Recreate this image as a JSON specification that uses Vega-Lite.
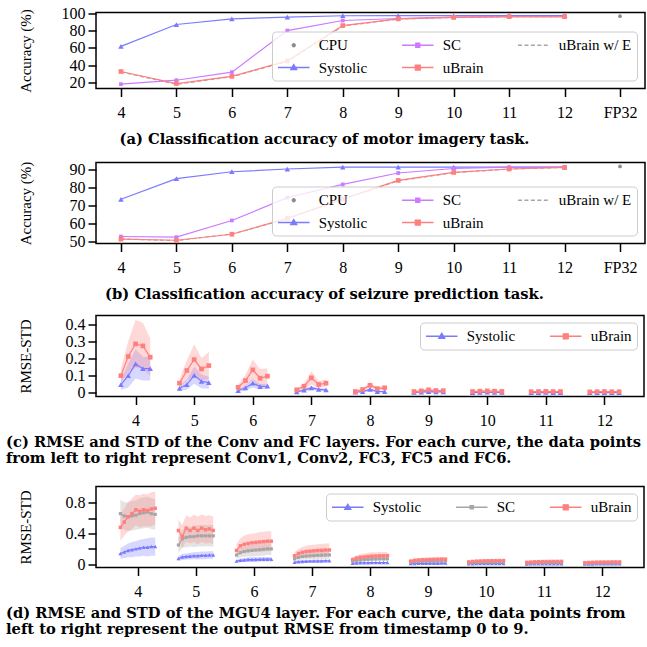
{
"$schema": "https://vega.github.io/schema/vega-lite/v6.json",
"padding": {"left": 5, "top": 3.5, "right": 5, "bottom": 5},
"background": "white",
"config": {
 "font": "Liberation Serif",
 "view": {"stroke": "#000", "strokeWidth": 1.5},
 "axis": {"domain": false, "grid": false, "ticks": true, "tickSize": 8, "tickWidth": 1.5, "tickColor": "#000", "labelFont": "Liberation Serif", "labelFontSize": 16, "labelColor": "#000", "titleFont": "Liberation Serif", "titleFontSize": 15, "titleFontWeight": "normal", "titleColor": "#000"},
 "axisX": {"labelPadding": 8},
 "axisY": {"labelPadding": 3, "titleX": -63, "titleBaseline": "bottom"},
 "legend": {"labelFont": "Liberation Serif", "labelFontSize": 15, "labelColor": "#000", "symbolSize": 225, "symbolOffset": 8.25, "symbolStrokeWidth": 1.3, "symbolOpacity": 1, "labelOffset": 16.5, "columnPadding": 31, "rowPadding": 5.5, "padding": 5, "fillColor": "rgba(255,255,255,0.8)", "strokeColor": "#cccccc", "cornerRadius": 4},
 "title": {"font": "DejaVu Serif", "fontSize": 14.7, "fontWeight": "bold", "color": "#000", "subtitleFont": "DejaVu Serif", "subtitleFontSize": 1, "lineHeight": 16}
},
"resolve": {"scale": {"fill": "independent", "stroke": "independent", "shape": "independent"}, "legend": {"fill": "independent", "stroke": "independent", "shape": "independent"}},
"spacing": 10,
"datasets": {
 "acc_a": [
  {"x":4,"s":"Systolic","y":61.9},{"x":5,"s":"Systolic","y":86.9},{"x":6,"s":"Systolic","y":93.4},{"x":7,"s":"Systolic","y":95.4},{"x":8,"s":"Systolic","y":97},{"x":9,"s":"Systolic","y":97.1},{"x":10,"s":"Systolic","y":97.1},{"x":11,"s":"Systolic","y":97.1},{"x":12,"s":"Systolic","y":97.1},
  {"x":4,"s":"SC","y":18.5},{"x":5,"s":"SC","y":23},{"x":6,"s":"SC","y":32.3},{"x":7,"s":"SC","y":80},{"x":8,"s":"SC","y":91.5},{"x":9,"s":"SC","y":93.8},{"x":10,"s":"SC","y":95.4},{"x":11,"s":"SC","y":96},{"x":12,"s":"SC","y":96},
  {"x":4,"s":"uBrain w/ E","y":32.5},{"x":5,"s":"uBrain w/ E","y":18.3},{"x":6,"s":"uBrain w/ E","y":27},{"x":7,"s":"uBrain w/ E","y":44.5},{"x":8,"s":"uBrain w/ E","y":85.2},{"x":9,"s":"uBrain w/ E","y":93.2},{"x":10,"s":"uBrain w/ E","y":95},{"x":11,"s":"uBrain w/ E","y":96},{"x":12,"s":"uBrain w/ E","y":96},
  {"x":4,"s":"uBrain","y":33},{"x":5,"s":"uBrain","y":19.2},{"x":6,"s":"uBrain","y":27.4},{"x":7,"s":"uBrain","y":45.2},{"x":8,"s":"uBrain","y":85.7},{"x":9,"s":"uBrain","y":93.4},{"x":10,"s":"uBrain","y":95},{"x":11,"s":"uBrain","y":96},{"x":12,"s":"uBrain","y":96},
  {"x":13,"s":"CPU","y":96.5}
 ],
 "acc_b": [
  {"x":4,"s":"Systolic","y":73.3},{"x":5,"s":"Systolic","y":84.7},{"x":6,"s":"Systolic","y":88.5},{"x":7,"s":"Systolic","y":90},{"x":8,"s":"Systolic","y":91},{"x":9,"s":"Systolic","y":91.1},{"x":10,"s":"Systolic","y":91.1},{"x":11,"s":"Systolic","y":91.1},{"x":12,"s":"Systolic","y":91.1},
  {"x":4,"s":"SC","y":52.75},{"x":5,"s":"SC","y":52.4},{"x":6,"s":"SC","y":61.6},{"x":7,"s":"SC","y":74.2},{"x":8,"s":"SC","y":81.5},{"x":9,"s":"SC","y":87.8},{"x":10,"s":"SC","y":90.3},{"x":11,"s":"SC","y":91},{"x":12,"s":"SC","y":91},
  {"x":4,"s":"uBrain w/ E","y":51.4},{"x":5,"s":"uBrain w/ E","y":50.5},{"x":6,"s":"uBrain w/ E","y":54.1},{"x":7,"s":"uBrain w/ E","y":62.5},{"x":8,"s":"uBrain w/ E","y":73.3},{"x":9,"s":"uBrain w/ E","y":83.5},{"x":10,"s":"uBrain w/ E","y":88},{"x":11,"s":"uBrain w/ E","y":90},{"x":12,"s":"uBrain w/ E","y":90.9},
  {"x":4,"s":"uBrain","y":51.3},{"x":5,"s":"uBrain","y":50.7},{"x":6,"s":"uBrain","y":54},{"x":7,"s":"uBrain","y":62.8},{"x":8,"s":"uBrain","y":73.5},{"x":9,"s":"uBrain","y":83.7},{"x":10,"s":"uBrain","y":88.1},{"x":11,"s":"uBrain","y":90},{"x":12,"s":"uBrain","y":90.9},
  {"x":13,"s":"CPU","y":91.4}
 ],
 "rmse_c": [
  {"x":3.75,"g":4,"s":"Systolic","y":0.049,"lo":0.019,"hi":0.079},{"x":3.875,"g":4,"s":"Systolic","y":0.101,"lo":0.031,"hi":0.171},{"x":4,"g":4,"s":"Systolic","y":0.17,"lo":0.085,"hi":0.255},{"x":4.125,"g":4,"s":"Systolic","y":0.142,"lo":0.072,"hi":0.212},{"x":4.25,"g":4,"s":"Systolic","y":0.142,"lo":0.072,"hi":0.212},
  {"x":4.75,"g":5,"s":"Systolic","y":0.027,"lo":0.012,"hi":0.042},{"x":4.875,"g":5,"s":"Systolic","y":0.049,"lo":0.019,"hi":0.079},{"x":5,"g":5,"s":"Systolic","y":0.103,"lo":0.053,"hi":0.153},{"x":5.125,"g":5,"s":"Systolic","y":0.068,"lo":0.028,"hi":0.108},{"x":5.25,"g":5,"s":"Systolic","y":0.06,"lo":0.025,"hi":0.095},
  {"x":5.75,"g":6,"s":"Systolic","y":0.014,"lo":0.006,"hi":0.022},{"x":5.875,"g":6,"s":"Systolic","y":0.029,"lo":0.014,"hi":0.044},{"x":6,"g":6,"s":"Systolic","y":0.057,"lo":0.032,"hi":0.082},{"x":6.125,"g":6,"s":"Systolic","y":0.037,"lo":0.022,"hi":0.052},{"x":6.25,"g":6,"s":"Systolic","y":0.039,"lo":0.024,"hi":0.054},
  {"x":6.75,"g":7,"s":"Systolic","y":0.006,"lo":0.002,"hi":0.01},{"x":6.875,"g":7,"s":"Systolic","y":0.016,"lo":0.008,"hi":0.024},{"x":7,"g":7,"s":"Systolic","y":0.029,"lo":0.017,"hi":0.041},{"x":7.125,"g":7,"s":"Systolic","y":0.021,"lo":0.013,"hi":0.029},{"x":7.25,"g":7,"s":"Systolic","y":0.018,"lo":0.01,"hi":0.026},
  {"x":7.75,"g":8,"s":"Systolic","y":0.004,"lo":0.002,"hi":0.006},{"x":7.875,"g":8,"s":"Systolic","y":0.008,"lo":0.004,"hi":0.012},{"x":8,"g":8,"s":"Systolic","y":0.021,"lo":0.013,"hi":0.029},{"x":8.125,"g":8,"s":"Systolic","y":0.008,"lo":0.004,"hi":0.012},{"x":8.25,"g":8,"s":"Systolic","y":0.008,"lo":0.004,"hi":0.012},
  {"x":8.75,"g":9,"s":"Systolic","y":0.003,"lo":0.001,"hi":0.005},{"x":8.875,"g":9,"s":"Systolic","y":0.005,"lo":0.003,"hi":0.007},{"x":9,"g":9,"s":"Systolic","y":0.008,"lo":0.006,"hi":0.01},{"x":9.125,"g":9,"s":"Systolic","y":0.006,"lo":0.004,"hi":0.008},{"x":9.25,"g":9,"s":"Systolic","y":0.006,"lo":0.004,"hi":0.008},
  {"x":9.75,"g":10,"s":"Systolic","y":0.002,"lo":0.001,"hi":0.003},{"x":9.875,"g":10,"s":"Systolic","y":0.003,"lo":0.002,"hi":0.004},{"x":10,"g":10,"s":"Systolic","y":0.004,"lo":0.003,"hi":0.005},{"x":10.125,"g":10,"s":"Systolic","y":0.003,"lo":0.002,"hi":0.004},{"x":10.25,"g":10,"s":"Systolic","y":0.003,"lo":0.002,"hi":0.004},
  {"x":10.75,"g":11,"s":"Systolic","y":0.002,"lo":0.001,"hi":0.003},{"x":10.875,"g":11,"s":"Systolic","y":0.002,"lo":0.001,"hi":0.003},{"x":11,"g":11,"s":"Systolic","y":0.003,"lo":0.002,"hi":0.004},{"x":11.125,"g":11,"s":"Systolic","y":0.002,"lo":0.001,"hi":0.003},{"x":11.25,"g":11,"s":"Systolic","y":0.002,"lo":0.001,"hi":0.003},
  {"x":11.75,"g":12,"s":"Systolic","y":0.001,"lo":0,"hi":0.002},{"x":11.875,"g":12,"s":"Systolic","y":0.002,"lo":0.001,"hi":0.003},{"x":12,"g":12,"s":"Systolic","y":0.002,"lo":0.001,"hi":0.003},{"x":12.125,"g":12,"s":"Systolic","y":0.002,"lo":0.001,"hi":0.003},{"x":12.25,"g":12,"s":"Systolic","y":0.002,"lo":0.001,"hi":0.003},
  {"x":3.75,"g":4,"s":"uBrain","y":0.101,"lo":0.061,"hi":0.141},{"x":3.875,"g":4,"s":"uBrain","y":0.213,"lo":0.123,"hi":0.303},{"x":4,"g":4,"s":"uBrain","y":0.287,"lo":0.147,"hi":0.427},{"x":4.125,"g":4,"s":"uBrain","y":0.275,"lo":0.14,"hi":0.41},{"x":4.25,"g":4,"s":"uBrain","y":0.209,"lo":0.099,"hi":0.319},
  {"x":4.75,"g":5,"s":"uBrain","y":0.057,"lo":0.032,"hi":0.082},{"x":4.875,"g":5,"s":"uBrain","y":0.131,"lo":0.071,"hi":0.191},{"x":5,"g":5,"s":"uBrain","y":0.195,"lo":0.105,"hi":0.285},{"x":5.125,"g":5,"s":"uBrain","y":0.14,"lo":0.075,"hi":0.205},{"x":5.25,"g":5,"s":"uBrain","y":0.16,"lo":0.08,"hi":0.24},
  {"x":5.75,"g":6,"s":"uBrain","y":0.033,"lo":0.018,"hi":0.048},{"x":5.875,"g":6,"s":"uBrain","y":0.072,"lo":0.037,"hi":0.107},{"x":6,"g":6,"s":"uBrain","y":0.135,"lo":0.075,"hi":0.195},{"x":6.125,"g":6,"s":"uBrain","y":0.086,"lo":0.032,"hi":0.14},{"x":6.25,"g":6,"s":"uBrain","y":0.098,"lo":0.052,"hi":0.144},
  {"x":6.75,"g":7,"s":"uBrain","y":0.018,"lo":0.01,"hi":0.026},{"x":6.875,"g":7,"s":"uBrain","y":0.039,"lo":0.021,"hi":0.057},{"x":7,"g":7,"s":"uBrain","y":0.088,"lo":0.049,"hi":0.127},{"x":7.125,"g":7,"s":"uBrain","y":0.049,"lo":0.029,"hi":0.069},{"x":7.25,"g":7,"s":"uBrain","y":0.057,"lo":0.037,"hi":0.077},
  {"x":7.75,"g":8,"s":"uBrain","y":0.008,"lo":0.004,"hi":0.012},{"x":7.875,"g":8,"s":"uBrain","y":0.02,"lo":0.012,"hi":0.028},{"x":8,"g":8,"s":"uBrain","y":0.045,"lo":0.03,"hi":0.06},{"x":8.125,"g":8,"s":"uBrain","y":0.025,"lo":0.015,"hi":0.035},{"x":8.25,"g":8,"s":"uBrain","y":0.03,"lo":0.02,"hi":0.04},
  {"x":8.75,"g":9,"s":"uBrain","y":0.008,"lo":0.005,"hi":0.011},{"x":8.875,"g":9,"s":"uBrain","y":0.012,"lo":0.008,"hi":0.016},{"x":9,"g":9,"s":"uBrain","y":0.018,"lo":0.012,"hi":0.024},{"x":9.125,"g":9,"s":"uBrain","y":0.014,"lo":0.009,"hi":0.019},{"x":9.25,"g":9,"s":"uBrain","y":0.013,"lo":0.008,"hi":0.018},
  {"x":9.75,"g":10,"s":"uBrain","y":0.008,"lo":0.005,"hi":0.011},{"x":9.875,"g":10,"s":"uBrain","y":0.01,"lo":0.007,"hi":0.013},{"x":10,"g":10,"s":"uBrain","y":0.012,"lo":0.009,"hi":0.015},{"x":10.125,"g":10,"s":"uBrain","y":0.01,"lo":0.007,"hi":0.013},{"x":10.25,"g":10,"s":"uBrain","y":0.009,"lo":0.006,"hi":0.012},
  {"x":10.75,"g":11,"s":"uBrain","y":0.007,"lo":0.004,"hi":0.01},{"x":10.875,"g":11,"s":"uBrain","y":0.008,"lo":0.005,"hi":0.011},{"x":11,"g":11,"s":"uBrain","y":0.009,"lo":0.006,"hi":0.012},{"x":11.125,"g":11,"s":"uBrain","y":0.008,"lo":0.005,"hi":0.011},{"x":11.25,"g":11,"s":"uBrain","y":0.008,"lo":0.005,"hi":0.011},
  {"x":11.75,"g":12,"s":"uBrain","y":0.006,"lo":0.004,"hi":0.008},{"x":11.875,"g":12,"s":"uBrain","y":0.007,"lo":0.005,"hi":0.009},{"x":12,"g":12,"s":"uBrain","y":0.008,"lo":0.006,"hi":0.01},{"x":12.125,"g":12,"s":"uBrain","y":0.007,"lo":0.005,"hi":0.009},{"x":12.25,"g":12,"s":"uBrain","y":0.007,"lo":0.005,"hi":0.009}
 ],
 "rmse_d": [
  {"x":3.7,"g":4,"s":"Systolic","y":0.14,"lo":0.07,"hi":0.21},{"x":3.767,"g":4,"s":"Systolic","y":0.16,"lo":0.08,"hi":0.24},{"x":3.833,"g":4,"s":"Systolic","y":0.18,"lo":0.09,"hi":0.27},{"x":3.9,"g":4,"s":"Systolic","y":0.19,"lo":0.09,"hi":0.29},{"x":3.967,"g":4,"s":"Systolic","y":0.2,"lo":0.1,"hi":0.3},{"x":4.033,"g":4,"s":"Systolic","y":0.21,"lo":0.1,"hi":0.32},{"x":4.1,"g":4,"s":"Systolic","y":0.22,"lo":0.11,"hi":0.33},{"x":4.167,"g":4,"s":"Systolic","y":0.22,"lo":0.1,"hi":0.34},{"x":4.233,"g":4,"s":"Systolic","y":0.23,"lo":0.11,"hi":0.35},{"x":4.3,"g":4,"s":"Systolic","y":0.23,"lo":0.11,"hi":0.35},
  {"x":4.7,"g":5,"s":"Systolic","y":0.075,"lo":0.045,"hi":0.105},{"x":4.767,"g":5,"s":"Systolic","y":0.095,"lo":0.055,"hi":0.135},{"x":4.833,"g":5,"s":"Systolic","y":0.1,"lo":0.06,"hi":0.14},{"x":4.9,"g":5,"s":"Systolic","y":0.105,"lo":0.06,"hi":0.15},{"x":4.967,"g":5,"s":"Systolic","y":0.11,"lo":0.065,"hi":0.155},{"x":5.033,"g":5,"s":"Systolic","y":0.11,"lo":0.06,"hi":0.16},{"x":5.1,"g":5,"s":"Systolic","y":0.115,"lo":0.065,"hi":0.165},{"x":5.167,"g":5,"s":"Systolic","y":0.115,"lo":0.065,"hi":0.165},{"x":5.233,"g":5,"s":"Systolic","y":0.12,"lo":0.07,"hi":0.17},{"x":5.3,"g":5,"s":"Systolic","y":0.12,"lo":0.07,"hi":0.17},
  {"x":5.7,"g":6,"s":"Systolic","y":0.04,"lo":0.02,"hi":0.06},{"x":5.767,"g":6,"s":"Systolic","y":0.05,"lo":0.025,"hi":0.075},{"x":5.833,"g":6,"s":"Systolic","y":0.055,"lo":0.03,"hi":0.08},{"x":5.9,"g":6,"s":"Systolic","y":0.06,"lo":0.03,"hi":0.09},{"x":5.967,"g":6,"s":"Systolic","y":0.06,"lo":0.03,"hi":0.09},{"x":6.033,"g":6,"s":"Systolic","y":0.062,"lo":0.032,"hi":0.092},{"x":6.1,"g":6,"s":"Systolic","y":0.064,"lo":0.034,"hi":0.094},{"x":6.167,"g":6,"s":"Systolic","y":0.065,"lo":0.035,"hi":0.095},{"x":6.233,"g":6,"s":"Systolic","y":0.065,"lo":0.035,"hi":0.095},{"x":6.3,"g":6,"s":"Systolic","y":0.065,"lo":0.035,"hi":0.095},
  {"x":6.7,"g":7,"s":"Systolic","y":0.025,"lo":0.01,"hi":0.04},{"x":6.767,"g":7,"s":"Systolic","y":0.032,"lo":0.017,"hi":0.047},{"x":6.833,"g":7,"s":"Systolic","y":0.036,"lo":0.021,"hi":0.051},{"x":6.9,"g":7,"s":"Systolic","y":0.038,"lo":0.023,"hi":0.053},{"x":6.967,"g":7,"s":"Systolic","y":0.04,"lo":0.025,"hi":0.055},{"x":7.033,"g":7,"s":"Systolic","y":0.041,"lo":0.026,"hi":0.056},{"x":7.1,"g":7,"s":"Systolic","y":0.042,"lo":0.027,"hi":0.057},{"x":7.167,"g":7,"s":"Systolic","y":0.043,"lo":0.028,"hi":0.058},{"x":7.233,"g":7,"s":"Systolic","y":0.044,"lo":0.029,"hi":0.059},{"x":7.3,"g":7,"s":"Systolic","y":0.045,"lo":0.03,"hi":0.06},
  {"x":7.7,"g":8,"s":"Systolic","y":0.012,"lo":0.004,"hi":0.02},{"x":7.767,"g":8,"s":"Systolic","y":0.016,"lo":0.008,"hi":0.024},{"x":7.833,"g":8,"s":"Systolic","y":0.018,"lo":0.01,"hi":0.026},{"x":7.9,"g":8,"s":"Systolic","y":0.019,"lo":0.011,"hi":0.027},{"x":7.967,"g":8,"s":"Systolic","y":0.02,"lo":0.012,"hi":0.028},{"x":8.033,"g":8,"s":"Systolic","y":0.021,"lo":0.013,"hi":0.029},{"x":8.1,"g":8,"s":"Systolic","y":0.021,"lo":0.013,"hi":0.029},{"x":8.167,"g":8,"s":"Systolic","y":0.022,"lo":0.014,"hi":0.03},{"x":8.233,"g":8,"s":"Systolic","y":0.022,"lo":0.014,"hi":0.03},{"x":8.3,"g":8,"s":"Systolic","y":0.022,"lo":0.014,"hi":0.03},
  {"x":8.7,"g":9,"s":"Systolic","y":0.008,"lo":0.003,"hi":0.013},{"x":8.767,"g":9,"s":"Systolic","y":0.01,"lo":0.005,"hi":0.015},{"x":8.833,"g":9,"s":"Systolic","y":0.011,"lo":0.006,"hi":0.016},{"x":8.9,"g":9,"s":"Systolic","y":0.012,"lo":0.007,"hi":0.017},{"x":8.967,"g":9,"s":"Systolic","y":0.012,"lo":0.007,"hi":0.017},{"x":9.033,"g":9,"s":"Systolic","y":0.013,"lo":0.008,"hi":0.018},{"x":9.1,"g":9,"s":"Systolic","y":0.013,"lo":0.008,"hi":0.018},{"x":9.167,"g":9,"s":"Systolic","y":0.013,"lo":0.008,"hi":0.018},{"x":9.233,"g":9,"s":"Systolic","y":0.014,"lo":0.009,"hi":0.019},{"x":9.3,"g":9,"s":"Systolic","y":0.014,"lo":0.009,"hi":0.019},
  {"x":9.7,"g":10,"s":"Systolic","y":0.006,"lo":0.003,"hi":0.009},{"x":9.767,"g":10,"s":"Systolic","y":0.007,"lo":0.004,"hi":0.01},{"x":9.833,"g":10,"s":"Systolic","y":0.008,"lo":0.005,"hi":0.011},{"x":9.9,"g":10,"s":"Systolic","y":0.008,"lo":0.005,"hi":0.011},{"x":9.967,"g":10,"s":"Systolic","y":0.009,"lo":0.006,"hi":0.012},{"x":10.033,"g":10,"s":"Systolic","y":0.009,"lo":0.006,"hi":0.012},{"x":10.1,"g":10,"s":"Systolic","y":0.009,"lo":0.006,"hi":0.012},{"x":10.167,"g":10,"s":"Systolic","y":0.009,"lo":0.006,"hi":0.012},{"x":10.233,"g":10,"s":"Systolic","y":0.01,"lo":0.007,"hi":0.013},{"x":10.3,"g":10,"s":"Systolic","y":0.01,"lo":0.007,"hi":0.013},
  {"x":10.7,"g":11,"s":"Systolic","y":0.004,"lo":0.002,"hi":0.006},{"x":10.767,"g":11,"s":"Systolic","y":0.005,"lo":0.003,"hi":0.007},{"x":10.833,"g":11,"s":"Systolic","y":0.006,"lo":0.004,"hi":0.008},{"x":10.9,"g":11,"s":"Systolic","y":0.006,"lo":0.004,"hi":0.008},{"x":10.967,"g":11,"s":"Systolic","y":0.006,"lo":0.004,"hi":0.008},{"x":11.033,"g":11,"s":"Systolic","y":0.006,"lo":0.004,"hi":0.008},{"x":11.1,"g":11,"s":"Systolic","y":0.007,"lo":0.005,"hi":0.009},{"x":11.167,"g":11,"s":"Systolic","y":0.007,"lo":0.005,"hi":0.009},{"x":11.233,"g":11,"s":"Systolic","y":0.007,"lo":0.005,"hi":0.009},{"x":11.3,"g":11,"s":"Systolic","y":0.007,"lo":0.005,"hi":0.009},
  {"x":11.7,"g":12,"s":"Systolic","y":0.003,"lo":0.001,"hi":0.005},{"x":11.767,"g":12,"s":"Systolic","y":0.004,"lo":0.002,"hi":0.006},{"x":11.833,"g":12,"s":"Systolic","y":0.004,"lo":0.002,"hi":0.006},{"x":11.9,"g":12,"s":"Systolic","y":0.005,"lo":0.003,"hi":0.007},{"x":11.967,"g":12,"s":"Systolic","y":0.005,"lo":0.003,"hi":0.007},{"x":12.033,"g":12,"s":"Systolic","y":0.005,"lo":0.003,"hi":0.007},{"x":12.1,"g":12,"s":"Systolic","y":0.005,"lo":0.003,"hi":0.007},{"x":12.167,"g":12,"s":"Systolic","y":0.005,"lo":0.003,"hi":0.007},{"x":12.233,"g":12,"s":"Systolic","y":0.005,"lo":0.003,"hi":0.007},{"x":12.3,"g":12,"s":"Systolic","y":0.005,"lo":0.003,"hi":0.007},
  {"x":3.7,"g":4,"s":"SC","y":0.66,"lo":0.48,"hi":0.84},{"x":3.767,"g":4,"s":"SC","y":0.63,"lo":0.45,"hi":0.81},{"x":3.833,"g":4,"s":"SC","y":0.62,"lo":0.43,"hi":0.81},{"x":3.9,"g":4,"s":"SC","y":0.63,"lo":0.44,"hi":0.82},{"x":3.967,"g":4,"s":"SC","y":0.64,"lo":0.45,"hi":0.83},{"x":4.033,"g":4,"s":"SC","y":0.66,"lo":0.46,"hi":0.86},{"x":4.1,"g":4,"s":"SC","y":0.67,"lo":0.47,"hi":0.87},{"x":4.167,"g":4,"s":"SC","y":0.68,"lo":0.48,"hi":0.88},{"x":4.233,"g":4,"s":"SC","y":0.66,"lo":0.46,"hi":0.86},{"x":4.3,"g":4,"s":"SC","y":0.65,"lo":0.45,"hi":0.85},
  {"x":4.7,"g":5,"s":"SC","y":0.25,"lo":0.15,"hi":0.35},{"x":4.767,"g":5,"s":"SC","y":0.33,"lo":0.21,"hi":0.45},{"x":4.833,"g":5,"s":"SC","y":0.35,"lo":0.22,"hi":0.48},{"x":4.9,"g":5,"s":"SC","y":0.36,"lo":0.23,"hi":0.49},{"x":4.967,"g":5,"s":"SC","y":0.36,"lo":0.22,"hi":0.5},{"x":5.033,"g":5,"s":"SC","y":0.37,"lo":0.23,"hi":0.51},{"x":5.1,"g":5,"s":"SC","y":0.37,"lo":0.23,"hi":0.51},{"x":5.167,"g":5,"s":"SC","y":0.37,"lo":0.23,"hi":0.51},{"x":5.233,"g":5,"s":"SC","y":0.37,"lo":0.23,"hi":0.51},{"x":5.3,"g":5,"s":"SC","y":0.37,"lo":0.23,"hi":0.51},
  {"x":5.7,"g":6,"s":"SC","y":0.12,"lo":0.07,"hi":0.17},{"x":5.767,"g":6,"s":"SC","y":0.15,"lo":0.09,"hi":0.21},{"x":5.833,"g":6,"s":"SC","y":0.165,"lo":0.095,"hi":0.235},{"x":5.9,"g":6,"s":"SC","y":0.175,"lo":0.105,"hi":0.245},{"x":5.967,"g":6,"s":"SC","y":0.18,"lo":0.1,"hi":0.26},{"x":6.033,"g":6,"s":"SC","y":0.185,"lo":0.105,"hi":0.265},{"x":6.1,"g":6,"s":"SC","y":0.19,"lo":0.11,"hi":0.27},{"x":6.167,"g":6,"s":"SC","y":0.195,"lo":0.115,"hi":0.275},{"x":6.233,"g":6,"s":"SC","y":0.2,"lo":0.12,"hi":0.28},{"x":6.3,"g":6,"s":"SC","y":0.2,"lo":0.12,"hi":0.28},
  {"x":6.7,"g":7,"s":"SC","y":0.07,"lo":0.04,"hi":0.1},{"x":6.767,"g":7,"s":"SC","y":0.09,"lo":0.05,"hi":0.13},{"x":6.833,"g":7,"s":"SC","y":0.1,"lo":0.06,"hi":0.14},{"x":6.9,"g":7,"s":"SC","y":0.105,"lo":0.06,"hi":0.15},{"x":6.967,"g":7,"s":"SC","y":0.11,"lo":0.065,"hi":0.155},{"x":7.033,"g":7,"s":"SC","y":0.112,"lo":0.062,"hi":0.162},{"x":7.1,"g":7,"s":"SC","y":0.115,"lo":0.065,"hi":0.165},{"x":7.167,"g":7,"s":"SC","y":0.117,"lo":0.067,"hi":0.167},{"x":7.233,"g":7,"s":"SC","y":0.12,"lo":0.07,"hi":0.17},{"x":7.3,"g":7,"s":"SC","y":0.12,"lo":0.07,"hi":0.17},
  {"x":7.7,"g":8,"s":"SC","y":0.04,"lo":0.015,"hi":0.065},{"x":7.767,"g":8,"s":"SC","y":0.05,"lo":0.025,"hi":0.075},{"x":7.833,"g":8,"s":"SC","y":0.055,"lo":0.03,"hi":0.08},{"x":7.9,"g":8,"s":"SC","y":0.06,"lo":0.035,"hi":0.085},{"x":7.967,"g":8,"s":"SC","y":0.063,"lo":0.038,"hi":0.088},{"x":8.033,"g":8,"s":"SC","y":0.066,"lo":0.041,"hi":0.091},{"x":8.1,"g":8,"s":"SC","y":0.068,"lo":0.043,"hi":0.093},{"x":8.167,"g":8,"s":"SC","y":0.07,"lo":0.045,"hi":0.095},{"x":8.233,"g":8,"s":"SC","y":0.07,"lo":0.045,"hi":0.095},{"x":8.3,"g":8,"s":"SC","y":0.07,"lo":0.045,"hi":0.095},
  {"x":8.7,"g":9,"s":"SC","y":0.025,"lo":0.01,"hi":0.04},{"x":8.767,"g":9,"s":"SC","y":0.03,"lo":0.015,"hi":0.045},{"x":8.833,"g":9,"s":"SC","y":0.034,"lo":0.019,"hi":0.049},{"x":8.9,"g":9,"s":"SC","y":0.036,"lo":0.021,"hi":0.051},{"x":8.967,"g":9,"s":"SC","y":0.038,"lo":0.023,"hi":0.053},{"x":9.033,"g":9,"s":"SC","y":0.04,"lo":0.025,"hi":0.055},{"x":9.1,"g":9,"s":"SC","y":0.04,"lo":0.025,"hi":0.055},{"x":9.167,"g":9,"s":"SC","y":0.041,"lo":0.026,"hi":0.056},{"x":9.233,"g":9,"s":"SC","y":0.042,"lo":0.027,"hi":0.057},{"x":9.3,"g":9,"s":"SC","y":0.042,"lo":0.027,"hi":0.057},
  {"x":9.7,"g":10,"s":"SC","y":0.018,"lo":0.008,"hi":0.028},{"x":9.767,"g":10,"s":"SC","y":0.022,"lo":0.012,"hi":0.032},{"x":9.833,"g":10,"s":"SC","y":0.024,"lo":0.014,"hi":0.034},{"x":9.9,"g":10,"s":"SC","y":0.025,"lo":0.015,"hi":0.035},{"x":9.967,"g":10,"s":"SC","y":0.026,"lo":0.016,"hi":0.036},{"x":10.033,"g":10,"s":"SC","y":0.027,"lo":0.017,"hi":0.037},{"x":10.1,"g":10,"s":"SC","y":0.028,"lo":0.018,"hi":0.038},{"x":10.167,"g":10,"s":"SC","y":0.028,"lo":0.018,"hi":0.038},{"x":10.233,"g":10,"s":"SC","y":0.029,"lo":0.019,"hi":0.039},{"x":10.3,"g":10,"s":"SC","y":0.029,"lo":0.019,"hi":0.039},
  {"x":10.7,"g":11,"s":"SC","y":0.013,"lo":0.005,"hi":0.021},{"x":10.767,"g":11,"s":"SC","y":0.016,"lo":0.008,"hi":0.024},{"x":10.833,"g":11,"s":"SC","y":0.018,"lo":0.01,"hi":0.026},{"x":10.9,"g":11,"s":"SC","y":0.019,"lo":0.011,"hi":0.027},{"x":10.967,"g":11,"s":"SC","y":0.02,"lo":0.012,"hi":0.028},{"x":11.033,"g":11,"s":"SC","y":0.02,"lo":0.012,"hi":0.028},{"x":11.1,"g":11,"s":"SC","y":0.021,"lo":0.013,"hi":0.029},{"x":11.167,"g":11,"s":"SC","y":0.021,"lo":0.013,"hi":0.029},{"x":11.233,"g":11,"s":"SC","y":0.021,"lo":0.013,"hi":0.029},{"x":11.3,"g":11,"s":"SC","y":0.022,"lo":0.014,"hi":0.03},
  {"x":11.7,"g":12,"s":"SC","y":0.01,"lo":0.004,"hi":0.016},{"x":11.767,"g":12,"s":"SC","y":0.012,"lo":0.006,"hi":0.018},{"x":11.833,"g":12,"s":"SC","y":0.014,"lo":0.008,"hi":0.02},{"x":11.9,"g":12,"s":"SC","y":0.015,"lo":0.009,"hi":0.021},{"x":11.967,"g":12,"s":"SC","y":0.015,"lo":0.009,"hi":0.021},{"x":12.033,"g":12,"s":"SC","y":0.016,"lo":0.01,"hi":0.022},{"x":12.1,"g":12,"s":"SC","y":0.016,"lo":0.01,"hi":0.022},{"x":12.167,"g":12,"s":"SC","y":0.016,"lo":0.01,"hi":0.022},{"x":12.233,"g":12,"s":"SC","y":0.017,"lo":0.011,"hi":0.023},{"x":12.3,"g":12,"s":"SC","y":0.017,"lo":0.011,"hi":0.023},
  {"x":3.7,"g":4,"s":"uBrain","y":0.48,"lo":0.31,"hi":0.65},{"x":3.767,"g":4,"s":"uBrain","y":0.55,"lo":0.37,"hi":0.73},{"x":3.833,"g":4,"s":"uBrain","y":0.62,"lo":0.43,"hi":0.81},{"x":3.9,"g":4,"s":"uBrain","y":0.66,"lo":0.46,"hi":0.86},{"x":3.967,"g":4,"s":"uBrain","y":0.71,"lo":0.51,"hi":0.91},{"x":4.033,"g":4,"s":"uBrain","y":0.69,"lo":0.48,"hi":0.9},{"x":4.1,"g":4,"s":"uBrain","y":0.71,"lo":0.5,"hi":0.92},{"x":4.167,"g":4,"s":"uBrain","y":0.7,"lo":0.49,"hi":0.91},{"x":4.233,"g":4,"s":"uBrain","y":0.72,"lo":0.5,"hi":0.94},{"x":4.3,"g":4,"s":"uBrain","y":0.73,"lo":0.51,"hi":0.95},
  {"x":4.7,"g":5,"s":"uBrain","y":0.44,"lo":0.3,"hi":0.58},{"x":4.767,"g":5,"s":"uBrain","y":0.36,"lo":0.21,"hi":0.51},{"x":4.833,"g":5,"s":"uBrain","y":0.47,"lo":0.3,"hi":0.64},{"x":4.9,"g":5,"s":"uBrain","y":0.44,"lo":0.27,"hi":0.61},{"x":4.967,"g":5,"s":"uBrain","y":0.47,"lo":0.29,"hi":0.65},{"x":5.033,"g":5,"s":"uBrain","y":0.44,"lo":0.26,"hi":0.62},{"x":5.1,"g":5,"s":"uBrain","y":0.47,"lo":0.29,"hi":0.65},{"x":5.167,"g":5,"s":"uBrain","y":0.45,"lo":0.27,"hi":0.63},{"x":5.233,"g":5,"s":"uBrain","y":0.46,"lo":0.28,"hi":0.64},{"x":5.3,"g":5,"s":"uBrain","y":0.44,"lo":0.26,"hi":0.62},
  {"x":5.7,"g":6,"s":"uBrain","y":0.18,"lo":0.1,"hi":0.26},{"x":5.767,"g":6,"s":"uBrain","y":0.24,"lo":0.14,"hi":0.34},{"x":5.833,"g":6,"s":"uBrain","y":0.26,"lo":0.15,"hi":0.37},{"x":5.9,"g":6,"s":"uBrain","y":0.27,"lo":0.15,"hi":0.39},{"x":5.967,"g":6,"s":"uBrain","y":0.28,"lo":0.16,"hi":0.4},{"x":6.033,"g":6,"s":"uBrain","y":0.285,"lo":0.165,"hi":0.405},{"x":6.1,"g":6,"s":"uBrain","y":0.29,"lo":0.16,"hi":0.42},{"x":6.167,"g":6,"s":"uBrain","y":0.295,"lo":0.165,"hi":0.425},{"x":6.233,"g":6,"s":"uBrain","y":0.3,"lo":0.17,"hi":0.43},{"x":6.3,"g":6,"s":"uBrain","y":0.3,"lo":0.17,"hi":0.43},
  {"x":6.7,"g":7,"s":"uBrain","y":0.11,"lo":0.06,"hi":0.16},{"x":6.767,"g":7,"s":"uBrain","y":0.14,"lo":0.08,"hi":0.2},{"x":6.833,"g":7,"s":"uBrain","y":0.155,"lo":0.085,"hi":0.225},{"x":6.9,"g":7,"s":"uBrain","y":0.165,"lo":0.09,"hi":0.24},{"x":6.967,"g":7,"s":"uBrain","y":0.17,"lo":0.09,"hi":0.25},{"x":7.033,"g":7,"s":"uBrain","y":0.175,"lo":0.095,"hi":0.255},{"x":7.1,"g":7,"s":"uBrain","y":0.18,"lo":0.1,"hi":0.26},{"x":7.167,"g":7,"s":"uBrain","y":0.18,"lo":0.095,"hi":0.265},{"x":7.233,"g":7,"s":"uBrain","y":0.185,"lo":0.1,"hi":0.27},{"x":7.3,"g":7,"s":"uBrain","y":0.185,"lo":0.1,"hi":0.27},
  {"x":7.7,"g":8,"s":"uBrain","y":0.06,"lo":0.03,"hi":0.09},{"x":7.767,"g":8,"s":"uBrain","y":0.08,"lo":0.045,"hi":0.115},{"x":7.833,"g":8,"s":"uBrain","y":0.09,"lo":0.05,"hi":0.13},{"x":7.9,"g":8,"s":"uBrain","y":0.095,"lo":0.05,"hi":0.14},{"x":7.967,"g":8,"s":"uBrain","y":0.1,"lo":0.05,"hi":0.15},{"x":8.033,"g":8,"s":"uBrain","y":0.105,"lo":0.055,"hi":0.155},{"x":8.1,"g":8,"s":"uBrain","y":0.107,"lo":0.057,"hi":0.157},{"x":8.167,"g":8,"s":"uBrain","y":0.11,"lo":0.06,"hi":0.16},{"x":8.233,"g":8,"s":"uBrain","y":0.11,"lo":0.06,"hi":0.16},{"x":8.3,"g":8,"s":"uBrain","y":0.112,"lo":0.062,"hi":0.162},
  {"x":8.7,"g":9,"s":"uBrain","y":0.04,"lo":0.015,"hi":0.065},{"x":8.767,"g":9,"s":"uBrain","y":0.05,"lo":0.025,"hi":0.075},{"x":8.833,"g":9,"s":"uBrain","y":0.055,"lo":0.03,"hi":0.08},{"x":8.9,"g":9,"s":"uBrain","y":0.058,"lo":0.033,"hi":0.083},{"x":8.967,"g":9,"s":"uBrain","y":0.06,"lo":0.035,"hi":0.085},{"x":9.033,"g":9,"s":"uBrain","y":0.062,"lo":0.037,"hi":0.087},{"x":9.1,"g":9,"s":"uBrain","y":0.064,"lo":0.039,"hi":0.089},{"x":9.167,"g":9,"s":"uBrain","y":0.065,"lo":0.04,"hi":0.09},{"x":9.233,"g":9,"s":"uBrain","y":0.066,"lo":0.041,"hi":0.091},{"x":9.3,"g":9,"s":"uBrain","y":0.066,"lo":0.041,"hi":0.091},
  {"x":9.7,"g":10,"s":"uBrain","y":0.03,"lo":0.015,"hi":0.045},{"x":9.767,"g":10,"s":"uBrain","y":0.036,"lo":0.021,"hi":0.051},{"x":9.833,"g":10,"s":"uBrain","y":0.04,"lo":0.025,"hi":0.055},{"x":9.9,"g":10,"s":"uBrain","y":0.042,"lo":0.027,"hi":0.057},{"x":9.967,"g":10,"s":"uBrain","y":0.044,"lo":0.029,"hi":0.059},{"x":10.033,"g":10,"s":"uBrain","y":0.045,"lo":0.03,"hi":0.06},{"x":10.1,"g":10,"s":"uBrain","y":0.046,"lo":0.031,"hi":0.061},{"x":10.167,"g":10,"s":"uBrain","y":0.047,"lo":0.032,"hi":0.062},{"x":10.233,"g":10,"s":"uBrain","y":0.047,"lo":0.032,"hi":0.062},{"x":10.3,"g":10,"s":"uBrain","y":0.048,"lo":0.033,"hi":0.063},
  {"x":10.7,"g":11,"s":"uBrain","y":0.024,"lo":0.012,"hi":0.036},{"x":10.767,"g":11,"s":"uBrain","y":0.028,"lo":0.016,"hi":0.04},{"x":10.833,"g":11,"s":"uBrain","y":0.031,"lo":0.019,"hi":0.043},{"x":10.9,"g":11,"s":"uBrain","y":0.033,"lo":0.021,"hi":0.045},{"x":10.967,"g":11,"s":"uBrain","y":0.034,"lo":0.022,"hi":0.046},{"x":11.033,"g":11,"s":"uBrain","y":0.035,"lo":0.023,"hi":0.047},{"x":11.1,"g":11,"s":"uBrain","y":0.036,"lo":0.024,"hi":0.048},{"x":11.167,"g":11,"s":"uBrain","y":0.036,"lo":0.024,"hi":0.048},{"x":11.233,"g":11,"s":"uBrain","y":0.037,"lo":0.025,"hi":0.049},{"x":11.3,"g":11,"s":"uBrain","y":0.037,"lo":0.025,"hi":0.049},
  {"x":11.7,"g":12,"s":"uBrain","y":0.02,"lo":0.01,"hi":0.03},{"x":11.767,"g":12,"s":"uBrain","y":0.023,"lo":0.013,"hi":0.033},{"x":11.833,"g":12,"s":"uBrain","y":0.025,"lo":0.015,"hi":0.035},{"x":11.9,"g":12,"s":"uBrain","y":0.027,"lo":0.017,"hi":0.037},{"x":11.967,"g":12,"s":"uBrain","y":0.028,"lo":0.018,"hi":0.038},{"x":12.033,"g":12,"s":"uBrain","y":0.029,"lo":0.019,"hi":0.039},{"x":12.1,"g":12,"s":"uBrain","y":0.029,"lo":0.019,"hi":0.039},{"x":12.167,"g":12,"s":"uBrain","y":0.03,"lo":0.02,"hi":0.04},{"x":12.233,"g":12,"s":"uBrain","y":0.03,"lo":0.02,"hi":0.04},{"x":12.3,"g":12,"s":"uBrain","y":0.03,"lo":0.02,"hi":0.04}
 ]
},
"vconcat": [
 {
  "width": 549, "height": 76,
  "data": {"name": "acc_a"},
  "title": {"text": "(a) Classification accuracy of motor imagery task.", "subtitle": " ", "subtitlePadding": 1, "orient": "bottom", "anchor": "middle", "frame": "group", "dx": -46, "offset": 11},
  "encoding": {
   "x": {"field": "x", "type": "quantitative", "scale": {"domain": [3.55, 13.45], "nice": false, "zero": false}, "axis": {"title": null, "values": [4,5,6,7,8,9,10,11,12,13], "labelExpr": "datum.value === 13 ? 'FP32' : datum.label"}},
   "y": {"field": "y", "type": "quantitative", "scale": {"domain": [13.5, 100.7], "nice": false, "zero": false}, "axis": {"title": "Accuracy (%)", "values": [20,40,60,80,100]}}
  },
  "layer": [
   {"transform": [{"filter": "datum.s === 'uBrain w/ E'"}], "mark": {"type": "line", "color": "#a6a6a6", "strokeWidth": 1.2, "strokeDash": [4, 2.5]}, "encoding": {}},
   {"transform": [{"filter": "datum.s === 'Systolic'"}], "mark": {"type": "line", "strokeWidth": 1.2, "color": "#7a7aff"}, "encoding": {}},
   {"transform": [{"filter": "datum.s === 'SC'"}], "mark": {"type": "line", "strokeWidth": 1.2, "color": "#cc7aff"}, "encoding": {}},
   {"transform": [{"filter": "datum.s === 'uBrain'"}], "mark": {"type": "line", "strokeWidth": 1.2, "color": "#ff7f7f"}, "encoding": {}},
   {"transform": [{"filter": "datum.s === 'Systolic'"}], "mark": {"type": "point", "shape": "triangle-up", "filled": true, "opacity": 1, "size": 30, "color": "#7a7aff"}, "encoding": {}},
   {"transform": [{"filter": "datum.s === 'SC'"}], "mark": {"type": "point", "shape": "square", "filled": true, "opacity": 1, "size": 14, "color": "#cc7aff"}, "encoding": {}},
   {"transform": [{"filter": "datum.s === 'uBrain'"}], "mark": {"type": "point", "shape": "square", "filled": true, "opacity": 1, "size": 22, "color": "#ff7f7f"}, "encoding": {}},
   {"transform": [{"filter": "datum.s === 'CPU'"}], "mark": {"type": "point", "shape": "circle", "filled": true, "opacity": 1, "size": 14, "color": "#8c8c8c"}, "encoding": {}},
   {"transform": [{"filter": "false"}], "mark": {"type": "point", "strokeWidth": 1.3},
    "encoding": {
     "fill": {"field": "s", "type": "nominal", "scale": {"domain": ["CPU", "Systolic", "SC", "uBrain", "uBrain w/ E"], "range": ["#8c8c8c", "#7a7aff", "#cc7aff", "#ff7f7f", "#a6a6a6"]}, "legend": {"title": null, "orient": "bottom-right", "offset": 8, "columns": 3}},
     "stroke": {"field": "s", "type": "nominal", "scale": {"domain": ["CPU", "Systolic", "SC", "uBrain", "uBrain w/ E"], "range": ["#8c8c8c", "#7a7aff", "#cc7aff", "#ff7f7f", "#a6a6a6"]}, "legend": {"title": null, "orient": "bottom-right", "offset": 8, "columns": 3}},
     "shape": {"field": "s", "type": "nominal", "scale": {"domain": ["CPU", "Systolic", "SC", "uBrain", "uBrain w/ E"], "range": ["M0.2,0A0.2,0.2,0,1,1,-0.2,0A0.2,0.2,0,1,1,0.2,0Z", "M-2.1,0H2.1M0,-0.4L0.4,0.27L-0.4,0.27Z", "M-2.1,0H2.1M-0.27,-0.27H0.27V0.27H-0.27Z", "M-2.1,0H2.1M-0.33,-0.33H0.33V0.33H-0.33Z", "M-2.1,0H-1.57M-1.24,0H-0.71M-0.38,0H0.15M0.48,0H1.01M1.34,0H1.87"]}, "legend": {"title": null, "orient": "bottom-right", "offset": 8, "columns": 3}}
    }}
  ]
 },
 {
  "width": 549, "height": 81,
  "data": {"name": "acc_b"},
  "title": {"text": "(b) Classification accuracy of seizure prediction task.", "subtitle": " ", "subtitlePadding": 1, "orient": "bottom", "anchor": "middle", "frame": "group", "dx": -46, "offset": 11},
  "encoding": {
   "x": {"field": "x", "type": "quantitative", "scale": {"domain": [3.55, 13.45], "nice": false, "zero": false}, "axis": {"title": null, "values": [4,5,6,7,8,9,10,11,12,13], "labelExpr": "datum.value === 13 ? 'FP32' : datum.label"}},
   "y": {"field": "y", "type": "quantitative", "scale": {"domain": [48.9, 93.6], "nice": false, "zero": false}, "axis": {"title": "Accuracy (%)", "values": [50,60,70,80,90]}}
  },
  "layer": [
   {"transform": [{"filter": "datum.s === 'uBrain w/ E'"}], "mark": {"type": "line", "color": "#a6a6a6", "strokeWidth": 1.2, "strokeDash": [4, 2.5]}, "encoding": {}},
   {"transform": [{"filter": "datum.s === 'Systolic'"}], "mark": {"type": "line", "strokeWidth": 1.2, "color": "#7a7aff"}, "encoding": {}},
   {"transform": [{"filter": "datum.s === 'SC'"}], "mark": {"type": "line", "strokeWidth": 1.2, "color": "#cc7aff"}, "encoding": {}},
   {"transform": [{"filter": "datum.s === 'uBrain'"}], "mark": {"type": "line", "strokeWidth": 1.2, "color": "#ff7f7f"}, "encoding": {}},
   {"transform": [{"filter": "datum.s === 'Systolic'"}], "mark": {"type": "point", "shape": "triangle-up", "filled": true, "opacity": 1, "size": 30, "color": "#7a7aff"}, "encoding": {}},
   {"transform": [{"filter": "datum.s === 'SC'"}], "mark": {"type": "point", "shape": "square", "filled": true, "opacity": 1, "size": 14, "color": "#cc7aff"}, "encoding": {}},
   {"transform": [{"filter": "datum.s === 'uBrain'"}], "mark": {"type": "point", "shape": "square", "filled": true, "opacity": 1, "size": 22, "color": "#ff7f7f"}, "encoding": {}},
   {"transform": [{"filter": "datum.s === 'CPU'"}], "mark": {"type": "point", "shape": "circle", "filled": true, "opacity": 1, "size": 14, "color": "#8c8c8c"}, "encoding": {}},
   {"transform": [{"filter": "false"}], "mark": {"type": "point", "strokeWidth": 1.3},
    "encoding": {
     "fill": {"field": "s", "type": "nominal", "scale": {"domain": ["CPU", "Systolic", "SC", "uBrain", "uBrain w/ E"], "range": ["#8c8c8c", "#7a7aff", "#cc7aff", "#ff7f7f", "#a6a6a6"]}, "legend": {"title": null, "orient": "bottom-right", "offset": 8, "columns": 3}},
     "stroke": {"field": "s", "type": "nominal", "scale": {"domain": ["CPU", "Systolic", "SC", "uBrain", "uBrain w/ E"], "range": ["#8c8c8c", "#7a7aff", "#cc7aff", "#ff7f7f", "#a6a6a6"]}, "legend": {"title": null, "orient": "bottom-right", "offset": 8, "columns": 3}},
     "shape": {"field": "s", "type": "nominal", "scale": {"domain": ["CPU", "Systolic", "SC", "uBrain", "uBrain w/ E"], "range": ["M0.2,0A0.2,0.2,0,1,1,-0.2,0A0.2,0.2,0,1,1,0.2,0Z", "M-2.1,0H2.1M0,-0.4L0.4,0.27L-0.4,0.27Z", "M-2.1,0H2.1M-0.27,-0.27H0.27V0.27H-0.27Z", "M-2.1,0H2.1M-0.33,-0.33H0.33V0.33H-0.33Z", "M-2.1,0H-1.57M-1.24,0H-0.71M-0.38,0H0.15M0.48,0H1.01M1.34,0H1.87"]}, "legend": {"title": null, "orient": "bottom-right", "offset": 8, "columns": 3}}
    }}
  ]
 },
 {
  "width": 548, "height": 81,
  "data": {"name": "rmse_c"},
  "title": {"text": ["(c) RMSE and STD of the Conv and FC layers. For each curve, the data points", "from left to right represent Conv1, Conv2, FC3, FC5 and FC6."], "subtitle": " ", "subtitlePadding": 8, "orient": "bottom", "anchor": "start", "frame": "group", "dx": -90, "offset": 6},
  "encoding": {
   "x": {"field": "x", "type": "quantitative", "scale": {"domain": [3.325, 12.675], "nice": false, "zero": false}, "axis": {"title": null, "values": [4,5,6,7,8,9,10,11,12]}},
   "y": {"field": "y", "type": "quantitative", "scale": {"domain": [-0.021, 0.453], "nice": false, "zero": false}, "axis": {"title": "RMSE-STD", "values": [0,0.1,0.2,0.3,0.4], "format": "~g"}}
  },
  "layer": [
   {"transform": [{"filter": "datum.s === 'Systolic'"}], "mark": {"type": "area", "opacity": 0.3, "color": "#7a7aff"},
    "encoding": {"y": {"field": "lo", "type": "quantitative", "scale": {"domain": [-0.021, 0.453], "nice": false, "zero": false}, "axis": {"title": "RMSE-STD", "values": [0,0.1,0.2,0.3,0.4], "format": "~g"}}, "y2": {"field": "hi"}, "detail": {"field": "g", "type": "nominal"}}},
   {"transform": [{"filter": "datum.s === 'uBrain'"}], "mark": {"type": "area", "opacity": 0.3, "color": "#ff7f7f"},
    "encoding": {"y": {"field": "lo", "type": "quantitative", "scale": {"domain": [-0.021, 0.453], "nice": false, "zero": false}, "axis": {"title": "RMSE-STD", "values": [0,0.1,0.2,0.3,0.4], "format": "~g"}}, "y2": {"field": "hi"}, "detail": {"field": "g", "type": "nominal"}}},
   {"transform": [{"filter": "datum.s === 'Systolic'"}], "mark": {"type": "line", "strokeWidth": 1.2, "color": "#7a7aff"}, "encoding": {"detail": {"field": "g", "type": "nominal"}}},
   {"transform": [{"filter": "datum.s === 'uBrain'"}], "mark": {"type": "line", "strokeWidth": 1.2, "color": "#ff7f7f"}, "encoding": {"detail": {"field": "g", "type": "nominal"}}},
   {"transform": [{"filter": "datum.s === 'Systolic'"}], "mark": {"type": "point", "shape": "triangle-up", "filled": true, "opacity": 1, "size": 30, "color": "#7a7aff"}, "encoding": {}},
   {"transform": [{"filter": "datum.s === 'uBrain'"}], "mark": {"type": "point", "shape": "square", "filled": true, "opacity": 1, "size": 22, "color": "#ff7f7f"}, "encoding": {}},
   {"transform": [{"filter": "false"}], "mark": {"type": "point", "strokeWidth": 1.3},
    "encoding": {
     "fill": {"field": "s", "type": "nominal", "scale": {"domain": ["Systolic", "uBrain"], "range": ["#7a7aff", "#ff7f7f"]}, "legend": {"title": null, "orient": "top-right", "offset": 7, "columns": 2}},
     "stroke": {"field": "s", "type": "nominal", "scale": {"domain": ["Systolic", "uBrain"], "range": ["#7a7aff", "#ff7f7f"]}, "legend": {"title": null, "orient": "top-right", "offset": 7, "columns": 2}},
     "shape": {"field": "s", "type": "nominal", "scale": {"domain": ["Systolic", "uBrain"], "range": ["M-2.1,0H2.1M0,-0.4L0.4,0.27L-0.4,0.27Z", "M-2.1,0H2.1M-0.33,-0.33H0.33V0.33H-0.33Z"]}, "legend": {"title": null, "orient": "top-right", "offset": 7, "columns": 2}}
    }}
  ]
 },
 {
  "width": 548, "height": 81,
  "data": {"name": "rmse_d"},
  "title": {"text": ["(d) RMSE and STD of the MGU4 layer. For each curve, the data points from", "left to right represent the output RMSE from timestamp 0 to 9."], "subtitle": " ", "subtitlePadding": 1, "orient": "bottom", "anchor": "start", "frame": "group", "dx": -90, "offset": 6},
  "encoding": {
   "x": {"field": "x", "type": "quantitative", "scale": {"domain": [3.28, 12.72], "nice": false, "zero": false}, "axis": {"title": null, "values": [4,5,6,7,8,9,10,11,12]}},
   "y": {"field": "y", "type": "quantitative", "scale": {"domain": [-0.043, 1.014], "nice": false, "zero": false}, "axis": {"title": "RMSE-STD", "values": [0,0.2,0.4,0.6,0.8], "format": "~g"}}
  },
  "layer": [
   {"transform": [{"filter": "datum.s === 'Systolic'"}], "mark": {"type": "area", "opacity": 0.3, "color": "#7a7aff"},
    "encoding": {"y": {"field": "lo", "type": "quantitative", "scale": {"domain": [-0.043, 1.014], "nice": false, "zero": false}, "axis": {"title": "RMSE-STD", "values": [0,0.2,0.4,0.6,0.8], "format": "~g"}}, "y2": {"field": "hi"}, "detail": {"field": "g", "type": "nominal"}}},
   {"transform": [{"filter": "datum.s === 'SC'"}], "mark": {"type": "area", "opacity": 0.3, "color": "#a6a6a6"},
    "encoding": {"y": {"field": "lo", "type": "quantitative", "scale": {"domain": [-0.043, 1.014], "nice": false, "zero": false}, "axis": {"title": "RMSE-STD", "values": [0,0.2,0.4,0.6,0.8], "format": "~g"}}, "y2": {"field": "hi"}, "detail": {"field": "g", "type": "nominal"}}},
   {"transform": [{"filter": "datum.s === 'uBrain'"}], "mark": {"type": "area", "opacity": 0.3, "color": "#ff7f7f"},
    "encoding": {"y": {"field": "lo", "type": "quantitative", "scale": {"domain": [-0.043, 1.014], "nice": false, "zero": false}, "axis": {"title": "RMSE-STD", "values": [0,0.2,0.4,0.6,0.8], "format": "~g"}}, "y2": {"field": "hi"}, "detail": {"field": "g", "type": "nominal"}}},
   {"transform": [{"filter": "datum.s === 'Systolic'"}], "mark": {"type": "line", "strokeWidth": 1.2, "color": "#7a7aff"}, "encoding": {"detail": {"field": "g", "type": "nominal"}}},
   {"transform": [{"filter": "datum.s === 'SC'"}], "mark": {"type": "line", "strokeWidth": 1.2, "color": "#a6a6a6"}, "encoding": {"detail": {"field": "g", "type": "nominal"}}},
   {"transform": [{"filter": "datum.s === 'uBrain'"}], "mark": {"type": "line", "strokeWidth": 1.2, "color": "#ff7f7f"}, "encoding": {"detail": {"field": "g", "type": "nominal"}}},
   {"transform": [{"filter": "datum.s === 'Systolic'"}], "mark": {"type": "point", "shape": "triangle-up", "filled": true, "opacity": 1, "size": 16, "color": "#7a7aff"}, "encoding": {}},
   {"transform": [{"filter": "datum.s === 'SC'"}], "mark": {"type": "point", "shape": "square", "filled": true, "opacity": 1, "size": 10, "color": "#a6a6a6"}, "encoding": {}},
   {"transform": [{"filter": "datum.s === 'uBrain'"}], "mark": {"type": "point", "shape": "square", "filled": true, "opacity": 1, "size": 12, "color": "#ff7f7f"}, "encoding": {}},
   {"transform": [{"filter": "false"}], "mark": {"type": "point", "strokeWidth": 1.3},
    "encoding": {
     "fill": {"field": "s", "type": "nominal", "scale": {"domain": ["Systolic", "SC", "uBrain"], "range": ["#7a7aff", "#a6a6a6", "#ff7f7f"]}, "legend": {"title": null, "orient": "top-right", "offset": 7, "columns": 3}},
     "stroke": {"field": "s", "type": "nominal", "scale": {"domain": ["Systolic", "SC", "uBrain"], "range": ["#7a7aff", "#a6a6a6", "#ff7f7f"]}, "legend": {"title": null, "orient": "top-right", "offset": 7, "columns": 3}},
     "shape": {"field": "s", "type": "nominal", "scale": {"domain": ["Systolic", "SC", "uBrain"], "range": ["M-2.1,0H2.1M0,-0.4L0.4,0.27L-0.4,0.27Z", "M-2.1,0H2.1M-0.22,-0.22H0.22V0.22H-0.22Z", "M-2.1,0H2.1M-0.33,-0.33H0.33V0.33H-0.33Z"]}, "legend": {"title": null, "orient": "top-right", "offset": 7, "columns": 3}}
    }}
  ]
 }
]
}
